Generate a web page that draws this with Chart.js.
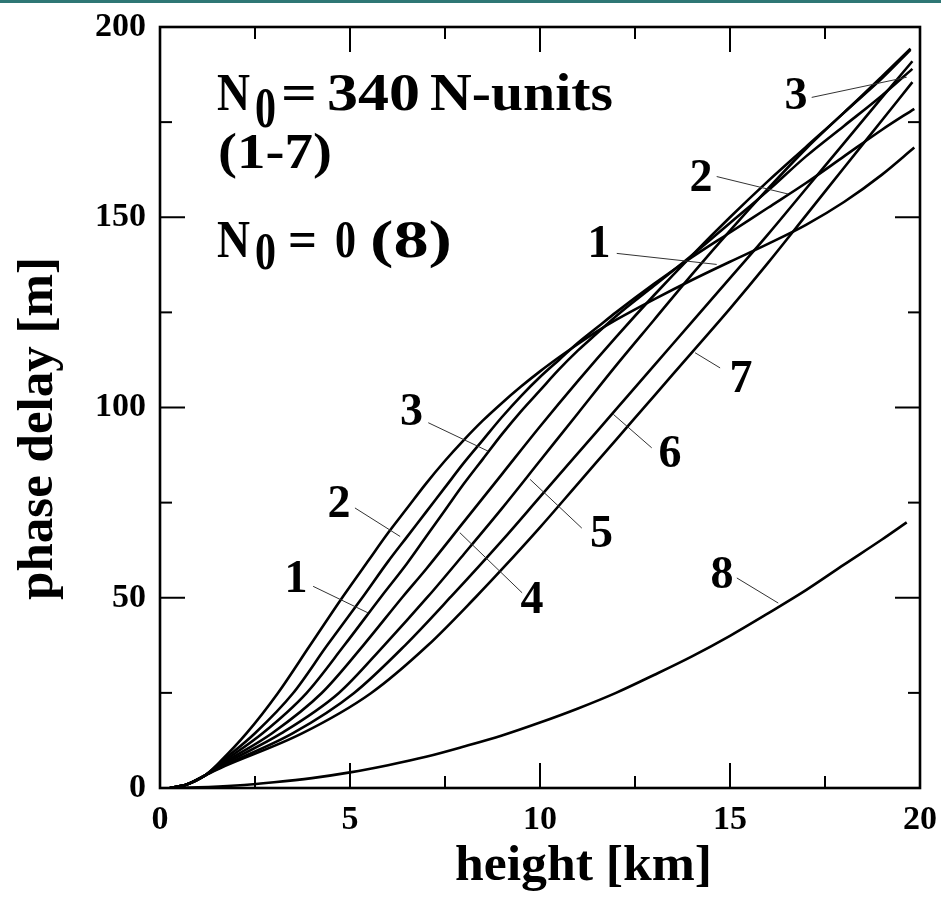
<!DOCTYPE html>
<html><head><meta charset="utf-8">
<script src="https://cdn.jsdelivr.net/npm/chart.js@4.4.0/dist/chart.umd.min.js"></script>
<style>html,body{margin:0;padding:0;background:#fff;}canvas{display:block;}</style>
</head><body>
<canvas id="c" width="941" height="910"></canvas>
<script>
// ---- data (height [km] vs phase delay [m]) ----
const c1X = [0.26,0.7,1.2,1.58,2.28,3.1,3.95,4.82,5.5,6,6.5,7,7.5,8,8.5,9,9.5,10,10.5,11,11.5,12,13,14,15,16,17,18,19,19.85];
const c1Y = [0,0.9,3.4,6.9,14.4,24.9,37.5,50.4,60,67,73.5,80,86,91.5,96.6,101.2,105.5,109.5,113.2,116.7,120,123,128.4,133.5,138.3,143,148,154,161.2,168.3];
const c2X = [0.26,0.7,1.2,1.58,2.5,3.5,4.4,5.35,6,6.5,7,7.5,8,8.5,9,9.5,10,10.5,11,11.5,12,13,14,15,16,17,18,19,19.85];
const c2Y = [0,0.9,3.4,6.6,14.4,24.9,37.5,50.4,59.5,66,72.5,79,85.5,91.5,97.5,103,108,112.5,117,121,125,132.5,139.5,146,152.5,159,166,173,178.5];
const c3X = [0.26,0.7,1.2,1.58,2.7,3.85,4.85,5.83,6.5,7,7.5,8,8.5,9,9.5,10,10.5,11,11.5,12,13,14,15,16,17,18,19,19.8];
const c3Y = [0,0.9,3.4,6.3,14.4,24.9,37.5,50.4,59,66,73,80,86.5,93,99,104.5,110,115,119.5,124,132,140,148.5,157,166,174,182,189];
const c4X = [0.26,0.7,1.2,1.58,2.95,4.25,5.35,6.4,7,8,9,10,11,12,13,14,15,16,17,18,19,19.75];
const c4Y = [0,0.9,3.4,6.0,14.4,24.9,37.5,50.4,57.5,70,82.5,95,107,118.5,129.5,140,150,159.5,168.5,177.5,187,194.3];
const c5X = [0.26,0.7,1.2,1.58,3.2,4.7,5.9,7.06,8,9,10,11,12,13,14,15,16,17,18,19,19.75];
const c5Y = [0,0.9,3.4,5.7,14.4,24.9,37.5,50.4,61.5,73.5,86,98.5,111,123,135,146.5,157.5,168,177.5,186.5,194];
const c6X = [0.26,0.7,1.2,1.58,3.5,5.1,6.45,7.67,9,10,11,12,13,14,15,16,17,18,19,19.8];
const c6Y = [0,0.9,3.4,5.4,14.4,24.9,37.5,50.4,65,76.5,88,99.5,111,122.5,134,145.5,157.5,169.5,181.5,191];
const c7X = [0.26,0.7,1.2,1.58,3.75,5.55,7.05,8.33,9,10,11,12,13,14,15,16,17,18,19,19.8];
const c7Y = [0,0.9,3.4,5.2,14.4,24.9,37.5,50.4,57.5,68.5,80,91.5,103,114.5,126,138,150.5,163,175.5,185.5];
const c8X = [0.3,1,2,3,4,5,6,7,8,9,10,11,12,13,14,15,16,17,18,19,19.65];
const c8Y = [0,0.16,0.65,1.5,2.6,4.1,6,8.2,10.9,13.8,17.2,20.9,25,29.7,34.6,40,45.9,52,58.7,65.3,69.8];

const xTickValues = [0,5,10,15,20];
const xMinorTicks = [2.5,7.5,12.5,17.5];
const yTickValues = [0,50,100,150,200];
const yMinorTicks = [25,75,125,175];
const xTitle = 'height [km]';
const yTitle = 'phase delay [m]';

// curve labels (data coords of label centre and leader line ends)
const curveLabels = ['1','2','3','4','5','6','7','1','2','3','8'];
const labelX   = [3.58,4.71,6.62,9.79,11.62,13.42,15.29,11.55,14.24,16.74,14.79];
const labelY   = [55.5,75.3,99.5,50.0,67.4,88.4,108.2,143.7,161.1,182.6,56.6];
const leadX0   = [4.03,5.13,7.06,9.53,11.10,12.94,14.74,12.02,14.65,17.15,15.18];
const leadY0   = [53.0,73.6,96.0,51.3,68.3,89.4,110.4,140.5,160.7,181.5,55.2];
const leadX1   = [5.48,6.32,8.64,7.89,9.74,11.93,14.08,14.65,16.53,19.65,16.27];
const leadY1   = [46.0,66.1,88.5,67.1,81.1,98.2,114.4,137.6,156.1,186.8,48.6];

const FONT = '"Liberation Serif", "Times New Roman", serif';

function pts(xs, ys){ return xs.map((x,i)=>({x:x, y:ys[i]})); }
function ds(xs, ys){
  return {data: pts(xs, ys), borderColor:'#000', borderWidth:2.6, pointRadius:0, fill:false,
          cubicInterpolationMode:'monotone'};
}

function fitText(ctx, str, x0, x1, baseline, size, rot){
  ctx.font = 'bold ' + size + 'px ' + FONT;
  const w = ctx.measureText(str).width;
  ctx.save();
  if (rot) {
    ctx.translate(baseline, x0);
    ctx.rotate(-Math.PI / 2);
    ctx.scale((x0 - x1) / w, 1);
  } else {
    ctx.translate(x0, baseline);
    ctx.scale((x1 - x0) / w, 1);
  }
  ctx.textAlign = 'left';
  ctx.textBaseline = 'alphabetic';
  ctx.fillText(str, 0, 0);
  ctx.restore();
}

const decor = {
  id: 'decor',
  beforeDraw(chart){
    const ctx = chart.ctx;
    ctx.save();
    ctx.fillStyle = '#fff';
    ctx.fillRect(0, 0, chart.width, chart.height);
    ctx.fillStyle = '#2e7775';
    ctx.fillRect(0, 0, chart.width, 3);
    ctx.restore();
  },
  afterDatasetsDraw(chart){
    const ctx = chart.ctx, a = chart.chartArea, xs = chart.scales.x, ys = chart.scales.y;
    ctx.save();
    ctx.strokeStyle = '#000';
    ctx.lineCap = 'butt';
    function seg(x0,y0,x1,y1){ ctx.beginPath(); ctx.moveTo(x0,y0); ctx.lineTo(x1,y1); ctx.stroke(); }
    ctx.lineWidth = 2;
    xTickValues.forEach(v => { const p = xs.getPixelForValue(v); seg(p,a.bottom,p,a.bottom-25); seg(p,a.top,p,a.top+25); });
    xMinorTicks.forEach(v => { const p = xs.getPixelForValue(v); seg(p,a.bottom,p,a.bottom-12); seg(p,a.top,p,a.top+12); });
    yTickValues.forEach(v => { const p = ys.getPixelForValue(v); seg(a.left,p,a.left+25,p); seg(a.right,p,a.right-25,p); });
    yMinorTicks.forEach(v => { const p = ys.getPixelForValue(v); seg(a.left,p,a.left+12,p); seg(a.right,p,a.right-12,p); });
    ctx.lineWidth = 2.6;
    ctx.strokeRect(a.left, a.top, a.right - a.left, a.bottom - a.top);

    // leader lines
    ctx.lineWidth = 1;
    ctx.strokeStyle = '#333';
    for (let i = 0; i < curveLabels.length; i++) {
      seg(xs.getPixelForValue(leadX0[i]), ys.getPixelForValue(leadY0[i]),
          xs.getPixelForValue(leadX1[i]), ys.getPixelForValue(leadY1[i]));
    }
    // labels
    ctx.fillStyle = '#000';
    ctx.font = 'bold 46px ' + FONT;
    ctx.textAlign = 'center';
    ctx.textBaseline = 'alphabetic';
    for (let i = 0; i < curveLabels.length; i++) {
      ctx.fillText(curveLabels[i], xs.getPixelForValue(labelX[i]), ys.getPixelForValue(labelY[i]) + 15.6);
    }
    // axis titles
    fitText(ctx, xTitle, 455, 712, 880, 50);
    fitText(ctx, yTitle, 600, 257, 52, 50, true);
    // annotation block
    fitText(ctx, 'N', 217, 250, 110, 52);
    fitText(ctx, '0', 255, 276, 127, 56);
    fitText(ctx, '=', 281, 317, 110, 52);
    fitText(ctx, '340', 327, 420, 110, 52);
    fitText(ctx, 'N-units', 430, 613, 110, 52);
    fitText(ctx, '(1-7)', 218, 332, 168, 50);
    fitText(ctx, 'N', 217, 250, 257, 52);
    fitText(ctx, '0', 255, 276, 269, 52);
    fitText(ctx, '=', 288, 317, 257, 52);
    fitText(ctx, '0', 335, 356, 257, 52);
    fitText(ctx, '(8)', 370, 452, 257, 52);
    ctx.restore();
  }
};

new Chart(document.getElementById('c'), {
  type: 'line',
  data: { datasets: [ds(c1X,c1Y), ds(c2X,c2Y), ds(c3X,c3Y), ds(c4X,c4Y), ds(c5X,c5Y), ds(c6X,c6Y), ds(c7X,c7Y), ds(c8X,c8Y)] },
  options: {
    responsive: false,
    animation: false,
    events: [],
    layout: { padding: { top: 27, right: 21, left: 0, bottom: 0 } },
    plugins: { legend: { display: false }, tooltip: { enabled: false } },
    scales: {
      x: {
        type: 'linear', min: 0, max: 20,
        grid: { display: false }, border: { display: false },
        afterBuildTicks: s => { s.ticks = xTickValues.map(v => ({value: v})); },
        ticks: { padding: 4, color: '#000', maxRotation: 0, autoSkip: false,
                 font: { family: FONT, size: 34, weight: 'bold' } },
        title: { display: false },
        afterFit: s => { s.height = 122; s.paddingLeft = 0; s.paddingRight = 0; }
      },
      y: {
        type: 'linear', min: 0, max: 200,
        grid: { display: false }, border: { display: false },
        afterBuildTicks: s => { s.ticks = yTickValues.map(v => ({value: v})); },
        ticks: { padding: 6, color: '#000',
                 font: { family: FONT, size: 34, weight: 'bold' } },
        title: { display: false },
        afterFit: s => { s.width = 160; s.paddingTop = 0; s.paddingBottom = 0; }
      }
    }
  },
  plugins: [decor]
});
</script>
</body></html>
